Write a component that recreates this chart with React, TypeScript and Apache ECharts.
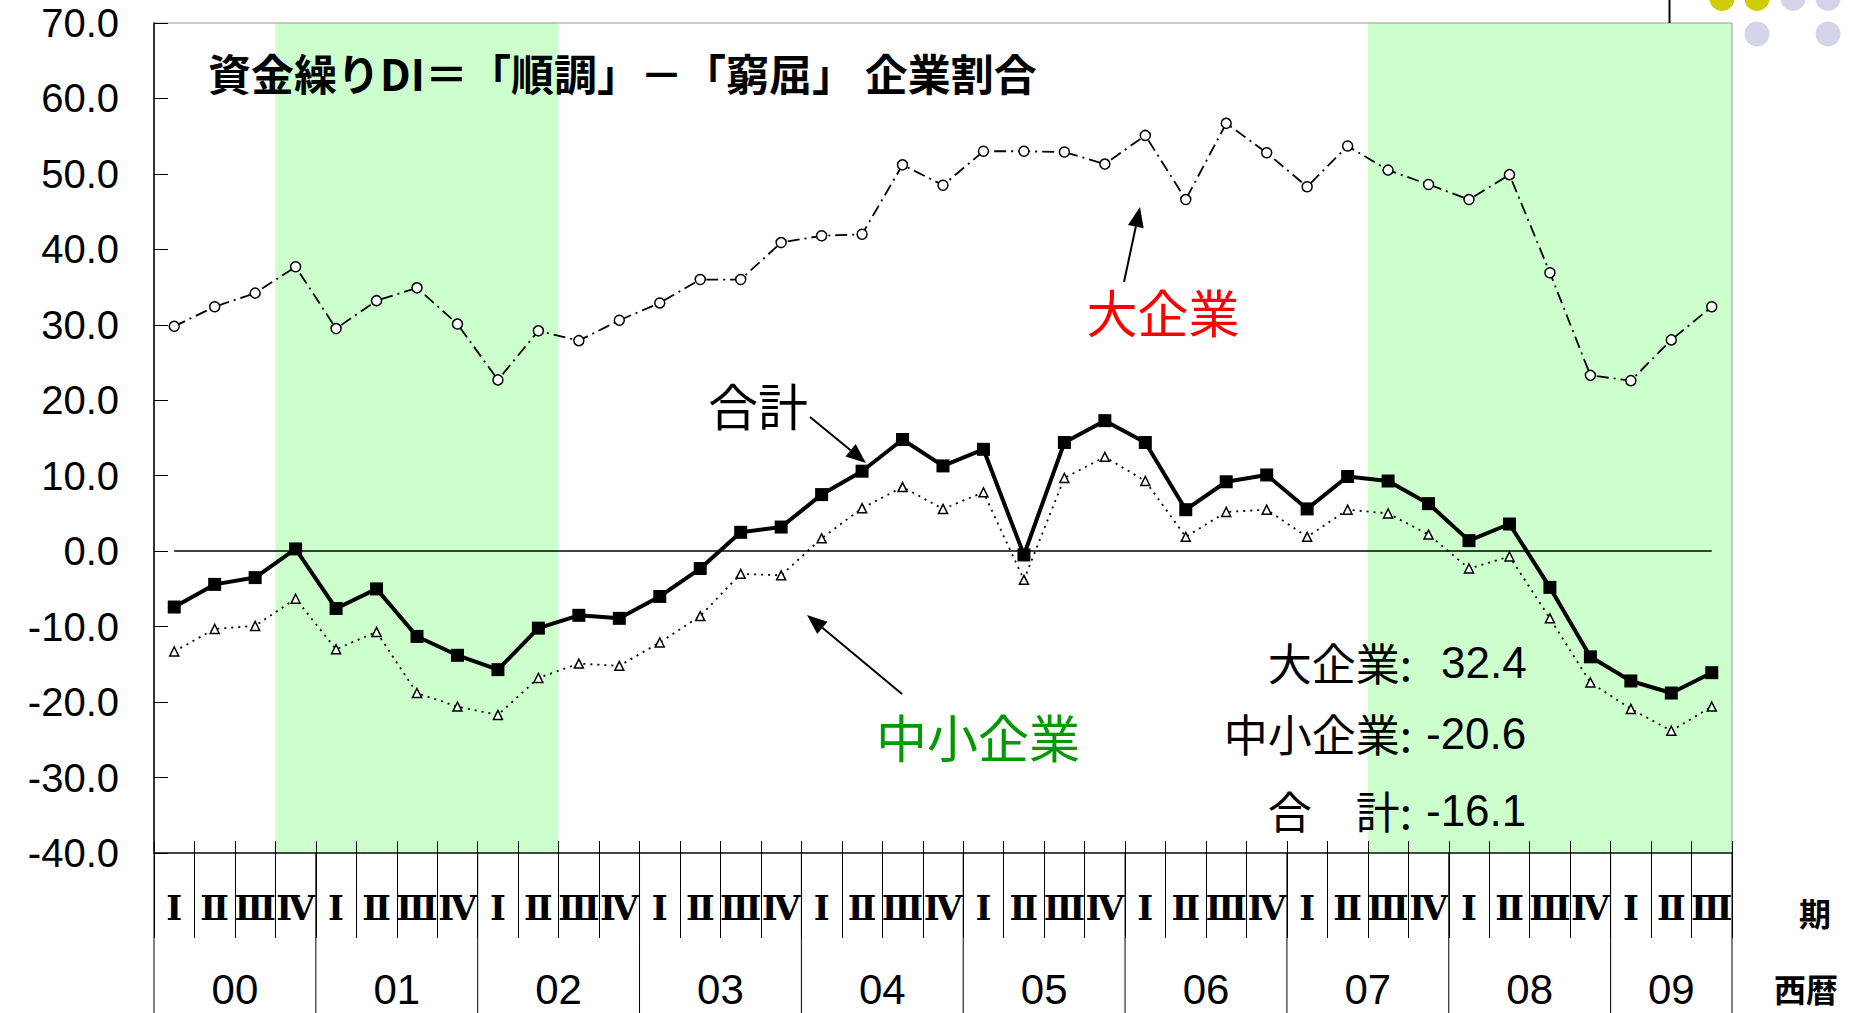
import React, { useEffect, useRef } from "react";
import * as echarts from "echarts";

const years = ["00", "01", "02", "03", "04", "05", "06", "07", "08", "09"];
const quartersPerYear = [4, 4, 4, 4, 4, 4, 4, 4, 4, 3];
const quarterNames = ["Ⅰ", "Ⅱ", "Ⅲ", "Ⅳ"];

const largeFirms = [29.8, 32.4, 34.2, 37.7, 29.5, 33.2, 34.9, 30.1, 22.7, 29.2, 27.9, 30.6, 32.9, 36.0, 36.0, 40.9, 41.8, 42.0, 51.2, 48.5, 53.0, 53.0, 52.9, 51.3, 55.1, 46.6, 56.7, 52.8, 48.3, 53.7, 50.5, 48.6, 46.6, 49.9, 36.9, 23.3, 22.6, 28.0, 32.4];
const smallFirms = [-13.3, -10.3, -9.9, -6.3, -13.0, -10.7, -18.8, -20.6, -21.7, -16.8, -14.9, -15.2, -12.1, -8.6, -3.0, -3.2, 1.7, 5.7, 8.5, 5.6, 7.8, -3.8, 9.7, 12.5, 9.3, 1.9, 5.2, 5.5, 1.9, 5.5, 5.0, 2.2, -2.3, -0.7, -8.9, -17.4, -20.9, -23.8, -20.6];
const totalFirms = [-7.4, -4.4, -3.5, 0.3, -7.6, -5.0, -11.3, -13.8, -15.7, -10.2, -8.5, -8.9, -6.0, -2.3, 2.5, 3.2, 7.5, 10.6, 14.8, 11.3, 13.5, -0.5, 14.4, 17.3, 14.4, 5.5, 9.2, 10.1, 5.6, 9.9, 9.3, 6.3, 1.4, 3.6, -4.8, -14.0, -17.2, -18.8, -16.1];

const yMin = -40;
const yMax = 70;
const yInterval = 10;

const recessionBands = [["00-Ⅳ", "02-Ⅱ"], ["07-Ⅲ", "09-Ⅲ"]];

const titleText = "資金繰りDI＝「順調」－「窮屈」 企業割合";
const summaryLabels = ["大企業:", "中小企業:", "合　計:"];

const categories: string[] = [];
years.forEach((y, yi) => {
  for (let q = 0; q < quartersPerYear[yi]; q++) categories.push(`${y}-${quarterNames[q]}`);
});

const CJK = '"Noto Sans CJK JP", sans-serif';
const NUM = '"Liberation Sans", Arial, sans-serif';
const SERIF = '"DejaVu Serif", "Liberation Serif", serif';

function arrow(x1: number, y1: number, x2: number, y2: number) {
  const dx = x2 - x1, dy = y2 - y1;
  const len = Math.sqrt(dx * dx + dy * dy);
  const ux = dx / len, uy = dy / len;
  const hl = 20, hw = 8;
  const bx = x2 - ux * hl, by = y2 - uy * hl;
  return [
    { type: "line", z: 50, shape: { x1, y1, x2: bx, y2: by }, style: { stroke: "#000", lineWidth: 2 } },
    {
      type: "polygon", z: 50,
      shape: { points: [[x2, y2], [bx - uy * hw, by + ux * hw], [bx + uy * hw, by - ux * hw]] },
      style: { fill: "#000" },
    },
  ];
}

export default function App() {
  const ref = useRef<HTMLDivElement>(null);
  useEffect(() => {
    document.body.style.margin = "0";
    const chart = echarts.init(ref.current!, null, { renderer: "svg" });
    const option: any = {
      animation: false,
      backgroundColor: "#fff",
      grid: { left: 154, right: 131, top: 23, bottom: 160, show: true, borderColor: "#999", borderWidth: 1 },
      xAxis: [
        {
          type: "category", data: categories, boundaryGap: true, position: "bottom",
          axisLine: { show: true, onZero: false, lineStyle: { color: "#444", width: 2 } },
          axisTick: { show: true, interval: 0, length: 85, lineStyle: { color: "#000", width: 1 } },
          axisLabel: {
            interval: 0, margin: 38, color: "#000", fontSize: 34, fontWeight: "bold", fontFamily: SERIF,
            formatter: (v: string) => v.split("-")[1],
          },
          splitLine: { show: false },
        },
        {
          type: "category", data: categories, boundaryGap: true, position: "bottom",
          axisLine: { show: false, onZero: false },
          axisTick: { show: true, inside: true, interval: 0, length: 12, lineStyle: { color: "#000", width: 1 } },
          axisLabel: { show: false },
          splitLine: { show: false },
        },
      ],
      yAxis: {
        type: "value", min: yMin, max: yMax, interval: yInterval,
        axisLine: { show: true, lineStyle: { color: "#000", width: 1.5 } },
        axisTick: { show: true, inside: true, length: 14, lineStyle: { color: "#000", width: 1 } },
        axisLabel: { color: "#000", fontSize: 40, fontFamily: NUM, margin: 35, formatter: (v: number) => v.toFixed(1) },
        splitLine: { show: false },
      },
      series: [
        {
          name: "大企業", type: "line", data: largeFirms, showAllSymbol: true,
          symbol: "circle", symbolSize: 10,
          itemStyle: { color: "#fff", borderColor: "#000", borderWidth: 1.5 },
          lineStyle: { color: "#000", width: 1.8, type: [12, 5, 2, 5] },
          z: 3,
        },
        {
          name: "中小企業", type: "line", data: smallFirms, showAllSymbol: true,
          symbol: "triangle", symbolSize: 9,
          itemStyle: { color: "#fff", borderColor: "#000", borderWidth: 1.5 },
          lineStyle: { color: "#000", width: 1.8, type: [2, 5] },
          z: 4,
        },
        {
          name: "合計", type: "line", data: totalFirms, showAllSymbol: true,
          symbol: "rect", symbolSize: 13,
          itemStyle: { color: "#000" },
          lineStyle: { color: "#000", width: 4 },
          z: 5,
          markLine: {
            silent: true, symbol: ["none", "none"], label: { show: false },
            lineStyle: { color: "#000", width: 1.5, type: "solid" },
            data: [[{ coord: [categories[0], 0] }, { coord: [categories[categories.length - 1], 0] }]],
          },
        },
      ],
    };
    chart.setOption(option);

    const cx = (c: string) => chart.convertToPixel({ xAxisIndex: 0 }, c) as number;
    const bw = cx(categories[1]) - cx(categories[0]);
    const yTop = chart.convertToPixel({ yAxisIndex: 0 }, yMax) as number;
    const yBot = chart.convertToPixel({ yAxisIndex: 0 }, yMin) as number;
    const H = 1013;

    const g: any[] = [];
    recessionBands.forEach(([a, b]) => {
      const x0 = cx(a) - bw / 2, x1 = cx(b) + bw / 2;
      g.push({ type: "rect", z: -10, shape: { x: x0, y: yTop, width: x1 - x0, height: yBot - yTop }, style: { fill: "#CCFFCC" } });
    });

    let start = 0;
    years.forEach((y, yi) => {
      const n = quartersPerYear[yi];
      const xl = cx(categories[start]) - bw / 2;
      const xr = cx(categories[start + n - 1]) + bw / 2;
      g.push({ type: "line", z: 10, shape: { x1: xl, y1: yBot, x2: xl, y2: H }, style: { stroke: "#000", lineWidth: 1 } });
      if (yi === years.length - 1) {
        g.push({ type: "line", z: 10, shape: { x1: xr, y1: yBot, x2: xr, y2: H }, style: { stroke: "#000", lineWidth: 1 } });
      }
      g.push({
        type: "text", z: 10, x: (xl + xr) / 2, y: 989,
        style: { text: y, fill: "#000", font: `42px ${NUM}`, align: "center", verticalAlign: "middle" },
      });
      start += n;
    });

    g.push({ type: "text", z: 10, x: 1815, y: 912, style: { text: "期", fill: "#000", font: `bold 32px ${CJK}`, align: "center", verticalAlign: "middle" } });
    g.push({ type: "text", z: 10, x: 1806, y: 988, style: { text: "西暦", fill: "#000", font: `bold 32px ${CJK}`, align: "center", verticalAlign: "middle" } });

    g.push({ type: "text", z: 50, x: 208, y: 72, style: { text: titleText, fill: "#000", font: `bold 43px ${CJK}`, align: "left", verticalAlign: "middle" } });
    g.push({ type: "text", z: 50, x: 1163, y: 311, style: { text: "大企業", fill: "#FF0000", font: `51px ${CJK}`, align: "center", verticalAlign: "middle" } });
    g.push({ type: "text", z: 50, x: 758, y: 404, style: { text: "合計", fill: "#000", font: `50px ${CJK}`, align: "center", verticalAlign: "middle" } });
    g.push({ type: "text", z: 50, x: 978, y: 736, style: { text: "中小企業", fill: "#009900", font: `51px ${CJK}`, align: "center", verticalAlign: "middle" } });

    const lastVals = [largeFirms, smallFirms, totalFirms].map((s) => s[s.length - 1]);
    const rowsY = [662, 733, 810];
    summaryLabels.forEach((lab, i) => {
      g.push({ type: "text", z: 50, x: 1412, y: rowsY[i], style: { text: lab, fill: "#000", font: `44px ${CJK}`, align: "right", verticalAlign: "middle" } });
      const v = lastVals[i];
      g.push({
        type: "text", z: 50, x: v >= 0 ? 1441 : 1426, y: rowsY[i],
        style: { text: v.toFixed(1), fill: "#000", font: `44px ${NUM}`, align: "left", verticalAlign: "middle" },
      });
    });

    g.push(...arrow(1124, 282, 1140, 207));
    g.push(...arrow(810, 417, 866, 463));
    g.push(...arrow(902, 694, 807, 615));

    g.push({ type: "line", z: 10, shape: { x1: 1669.5, y1: 0, x2: 1669.5, y2: yTop }, style: { stroke: "#000", lineWidth: 2 } });
    const dots: [number, number, string][] = [
      [1722, -1.5, "#CCCC00"], [1757, -1.5, "#CCCC00"], [1793, -1.5, "#D5D5E9"], [1828, -1.5, "#D5D5E9"],
      [1757, 34, "#D5D5E9"], [1828, 34, "#D5D5E9"],
    ];
    dots.forEach(([x, y, c]) => g.push({ type: "circle", z: 10, shape: { cx: x, cy: y, r: 12.5 }, style: { fill: c } }));

    chart.setOption({ graphic: g });
    return () => chart.dispose();
  }, []);
  return <div ref={ref} style={{ width: 1863, height: 1013, overflow: "hidden" }} />;
}
